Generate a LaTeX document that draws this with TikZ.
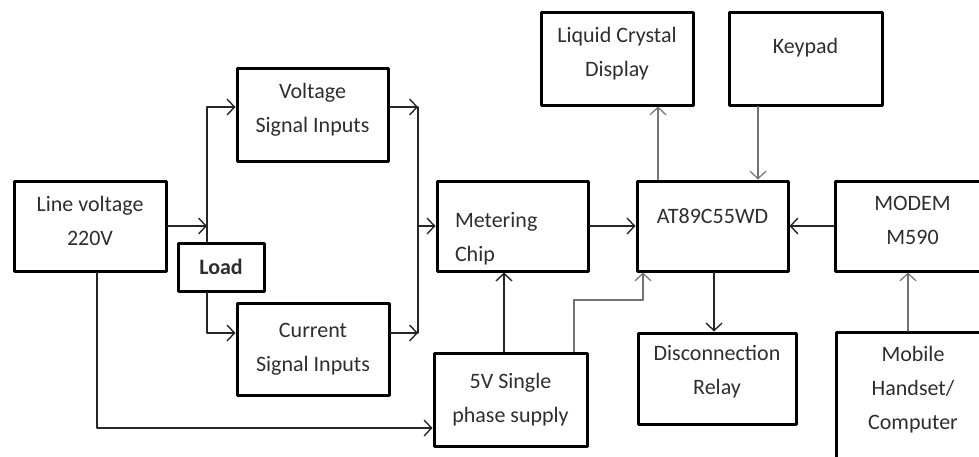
\documentclass[tikz,border=0pt]{standalone}
\usepackage{fontspec}
\setmainfont{Carlito}
\usepackage{tikz}
\usetikzlibrary{arrows.meta}

\begin{document}
\begin{tikzpicture}[line cap=round,line join=round,>={Straight Barb[length=7.5pt,width=16pt]},x=1pt,y=-1pt,
blk/.style={draw=black,line width=3pt,inner sep=0pt,align=center,text=black!82,font=\fontsize{22}{34}\selectfont},
wire/.style={line width=1.4pt,draw=black!85},
thin/.style={line width=1.2pt,draw=black!55}]
\useasboundingbox (0,0) rectangle (979,456);
\clip (0,0) rectangle (979,456);
\node[blk,minimum width=152pt,minimum height=90pt,text depth=10pt] (line) at (90,226) {Line voltage\\220V};
\node[blk,minimum width=151pt,minimum height=93pt,text depth=14pt] (volt) at (312.5,114.5) {Voltage\\Signal Inputs};
\node[blk,minimum width=86pt,minimum height=48pt,font=\bfseries\fontsize{22}{34}\selectfont] (load) at (221,267) {Load};
\node[blk,minimum width=152pt,minimum height=92pt] (curr) at (313,349) {Current\\Signal Inputs};
\node[blk,text width=115pt,inner xsep=18pt,minimum height=90pt,align=left,text depth=12pt] (meter) at (512.5,226) {Metering\\Chip};
\node[blk,minimum width=153pt,minimum height=93pt] (supply) at (510.5,399.5) {5V Single\\phase supply};
\node[blk,minimum width=152pt,minimum height=93pt,text depth=14pt] (lcd) at (617,58.5) {Liquid Crystal\\Display};
\node[blk,minimum width=153pt,minimum height=93pt,text depth=26pt] (keypad) at (805.5,58.5) {Keypad};
\node[blk,minimum width=151pt,minimum height=90pt,text depth=20pt] (mcu) at (712.5,226) {AT89C55WD};
\node[blk,minimum width=155pt,minimum height=90pt,text depth=12pt] (modem) at (912.5,226) {MODEM\\M590};
\node[blk,minimum width=158pt,minimum height=91pt,text depth=17pt] (relay) at (717,378.5) {Disconnection\\Relay};
\node[blk,minimum width=154pt,minimum height=135pt,text depth=25pt] (mobile) at (913,400) {Mobile\\Handset/\\Computer};
\coordinate (ja) at (207,107);
\coordinate (jb) at (207,333);
\coordinate (jc) at (418,107);
\coordinate (jd) at (418,333);
\coordinate (je) at (97,428);
\coordinate (jf) at (504,300);
\coordinate (jg) at (574,300);
\coordinate (jh) at (643,300);
\coordinate (jl) at (658,140);
\coordinate (jk) at (758,140);
\coordinate (jm) at (714,300);
\coordinate (jn) at (908,300);
\draw[wire,->] (line.east) -- (line.east -| ja);
\draw[wire] (ja |- load.north) -- (ja);
\draw[wire,->] (ja) -- (ja -| volt.west);
\draw[wire,->] (jb |- load.south) -- (jb) -- (jb -| curr.west);
\draw[wire,->] (volt.east |- jc) -- (jc);
\draw[wire,->] (curr.east |- jd) -- (jd);
\draw[wire] (jc) -- (jd);
\draw[wire,->] (jc |- meter.west) -- (meter.west);
\draw[wire,->] (je |- line.south) -- (je) -- (je -| supply.west);
\draw[wire,->] (jf |- supply.north) -- (jf |- meter.south);
\draw[thin,->] (jg |- supply.north) -- (jg) -- (jh) -- (jh |- mcu.south);
\draw[wire,->] (meter.east) -- (mcu.west);
\draw[wire,->] (modem.west) -- (mcu.east);
\draw[thin,->] (jl |- mcu.north) -- (jl |- lcd.south);
\draw[thin,->] (jk |- keypad.south) -- (jk |- mcu.north);
\draw[wire,->] (jm |- mcu.south) -- (jm |- relay.north);
\draw[thin,->] (jn |- mobile.north) -- (jn |- modem.south);
\end{tikzpicture}
\end{document}
